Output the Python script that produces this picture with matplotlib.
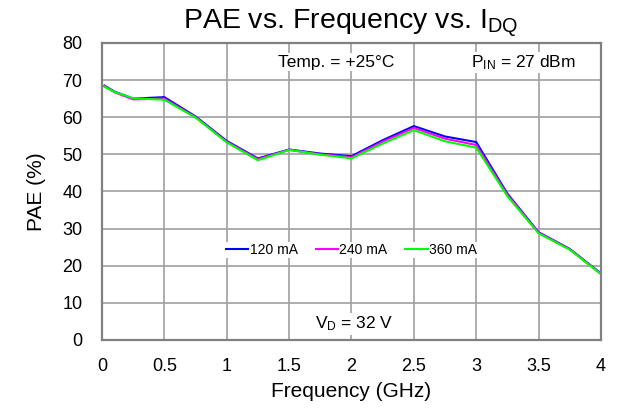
import matplotlib
matplotlib.use('Agg')
import matplotlib.pyplot as plt

plt.rcParams['font.family'] = ['Liberation Sans', 'DejaVu Sans']
plt.rcParams['mathtext.fontset'] = 'custom'
plt.rcParams['mathtext.rm'] = 'Liberation Sans'
plt.rcParams['mathtext.it'] = 'Liberation Sans'

# Frequency points (GHz)
freq = [0.02, 0.1, 0.25, 0.5, 0.75, 1.0, 1.25, 1.5, 1.75, 2.0, 2.25, 2.5, 2.75, 3.0, 3.25, 3.5, 3.75, 4.0]

# PAE (%) per quiescent drain current
pae_120 = [68.5, 66.9, 65.0, 65.4, 60.2, 53.6, 48.9, 51.3, 50.2, 49.5, 53.8, 57.6, 54.8, 53.3, 39.4, 29.0, 24.5, 17.9]
pae_240 = [68.4, 66.7, 64.8, 65.0, 60.0, 53.4, 48.7, 51.2, 50.0, 49.2, 53.4, 57.1, 54.2, 52.5, 39.1, 28.9, 24.4, 17.8]
pae_360 = [68.2, 66.8, 65.1, 64.7, 59.9, 53.2, 48.4, 51.2, 49.9, 48.9, 52.9, 56.5, 53.5, 51.8, 38.7, 28.7, 24.3, 17.7]

labels = ['120 mA', '240 mA', '360 mA']
colors = ['#0000ff', '#ff00ff', '#00ff00']

fig = plt.figure(figsize=(6.17, 4.13), dpi=100)
ax = fig.add_axes([0.1653, 0.177, 0.8087, 0.719])

for y, lab, c in zip([pae_120, pae_240, pae_360], labels, colors):
    ax.plot(freq, y, color=c, linewidth=1.5, label=lab)

ax.set_xlim(0, 4)
ax.set_ylim(0, 80)
ax.set_xticks([0, 0.5, 1, 1.5, 2, 2.5, 3, 3.5, 4])
ax.set_xticklabels(['0', '0.5', '1', '1.5', '2', '2.5', '3', '3.5', '4'])
ax.set_yticks(range(0, 81, 10))
ax.tick_params(length=0, labelsize=13)
ax.tick_params(axis='x', pad=13)
ax.tick_params(axis='y', pad=14)
ax.grid(True, color='#a0a0a0', linewidth=1.2)
ax.set_axisbelow(True)
for s in ax.spines.values():
    s.set_color('#808080')
    s.set_linewidth(1.6)

ax.set_xlabel('Frequency (GHz)', fontsize=15, labelpad=5)
ax.set_ylabel('PAE (%)', fontsize=15, labelpad=12)
fig.text(0.569, 0.932, r'PAE vs. Frequency vs. I$_{\mathrm{DQ}}$', fontsize=20.5,
         ha='center', va='baseline')

box = dict(facecolor='white', edgecolor='none', pad=1)
ax.text(1.88, 74.8, 'Temp. = +25°C', fontsize=12.5, ha='center', va='center', bbox=box)
ax.text(3.38, 74.8, r'P$_{\mathrm{IN}}$ = 27 dBm', fontsize=12.5, ha='center', va='center', bbox=box)
ax.text(2.02, 4.3, r'V$_{\mathrm{D}}$ = 32 V', fontsize=12.5, ha='center', va='center', bbox=box)

leg = ax.legend(loc='center', bbox_to_anchor=(0.5, 0.303), ncol=3, frameon=True,
                fontsize=10, handlelength=1.6, handletextpad=0.1, columnspacing=1.3,
                borderpad=0.1, fancybox=False)
leg.get_frame().set_edgecolor('none')
leg.get_frame().set_facecolor('white')
leg.get_frame().set_alpha(1)

plt.savefig('out.png', dpi=100)
